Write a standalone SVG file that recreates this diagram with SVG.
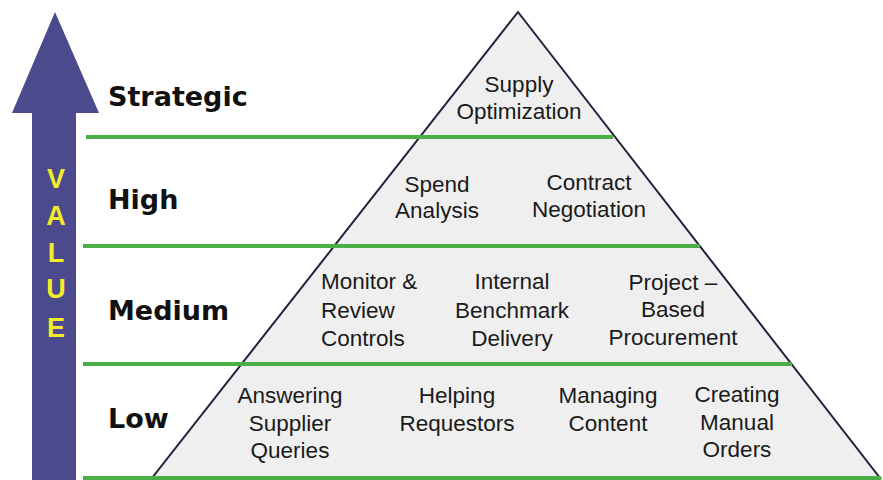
<svg xmlns="http://www.w3.org/2000/svg" width="883" height="480" viewBox="0 0 883 480">
  <style>
    .lvl { font-family: "DejaVu Sans", Verdana, sans-serif; font-weight: bold; font-size: 27px; fill: #111; }
    .val { font-family: "Liberation Sans", Arial, sans-serif; font-weight: bold; font-size: 27px; fill: #f4ec2a; text-anchor: middle; }
    .t { font-family: "Liberation Sans", Arial, sans-serif; font-size: 22.5px; fill: #1a1a1a; text-anchor: middle; }
    .tl { text-anchor: start; }
    .band { stroke: #4cae46; stroke-width: 4; }
  </style>
  <rect width="883" height="480" fill="#ffffff"/>

  <g id="value-arrow">
    <polygon points="55,12 99,113 76,113 76,480 32,480 32,113 12,113" fill="#4b4a8c"/>
    <text class="val" x="56" y="188">V</text>
    <text class="val" x="56" y="225">A</text>
    <text class="val" x="56" y="262">L</text>
    <text class="val" x="56" y="298">U</text>
    <text class="val" x="56" y="337">E</text>
  </g>

  <g id="pyramid">
    <polygon points="518,12 880,478 152,478" fill="#efefef" stroke="#22223e" stroke-width="2" stroke-linejoin="miter"/>
  </g>

  <g id="connectors">
    <line class="band" x1="86" y1="137" x2="613" y2="137"/>
    <line class="band" x1="83" y1="246" x2="700" y2="246"/>
    <line class="band" x1="83" y1="364" x2="792" y2="364"/>
    <line class="band" x1="83" y1="478" x2="881" y2="478"/>
  </g>

  <g id="level-strategic"><text class="lvl" x="108" y="106">Strategic</text></g>
  <g id="level-high"><text class="lvl" x="108" y="209">High</text></g>
  <g id="level-medium"><text class="lvl" x="108" y="320">Medium</text></g>
  <g id="level-low"><text class="lvl" x="108" y="428">Low</text></g>

  <g id="supply-optimization">
    <text class="t" x="519" y="92">Supply</text>
    <text class="t" x="519" y="119">Optimization</text>
  </g>
  <g id="spend-analysis">
    <text class="t" x="437" y="192">Spend</text>
    <text class="t" x="437" y="218">Analysis</text>
  </g>
  <g id="contract-negotiation">
    <text class="t" x="589" y="190">Contract</text>
    <text class="t" x="589" y="217">Negotiation</text>
  </g>
  <g id="monitor-review">
    <text class="t tl" x="321" y="289">Monitor &amp;</text>
    <text class="t tl" x="321" y="318">Review</text>
    <text class="t tl" x="321" y="346">Controls</text>
  </g>
  <g id="internal-benchmark">
    <text class="t" x="512" y="289">Internal</text>
    <text class="t" x="512" y="318">Benchmark</text>
    <text class="t" x="512" y="346">Delivery</text>
  </g>
  <g id="project-procurement">
    <text class="t" x="673" y="290">Project –</text>
    <text class="t" x="673" y="317">Based</text>
    <text class="t" x="673" y="345">Procurement</text>
  </g>
  <g id="answering-queries">
    <text class="t" x="290" y="403">Answering</text>
    <text class="t" x="290" y="431">Supplier</text>
    <text class="t" x="290" y="458">Queries</text>
  </g>
  <g id="helping-requestors">
    <text class="t" x="457" y="403">Helping</text>
    <text class="t" x="457" y="431">Requestors</text>
  </g>
  <g id="managing-content">
    <text class="t" x="608" y="403">Managing</text>
    <text class="t" x="608" y="431">Content</text>
  </g>
  <g id="creating-orders">
    <text class="t" x="737" y="402">Creating</text>
    <text class="t" x="737" y="430">Manual</text>
    <text class="t" x="737" y="457">Orders</text>
  </g>
</svg>
